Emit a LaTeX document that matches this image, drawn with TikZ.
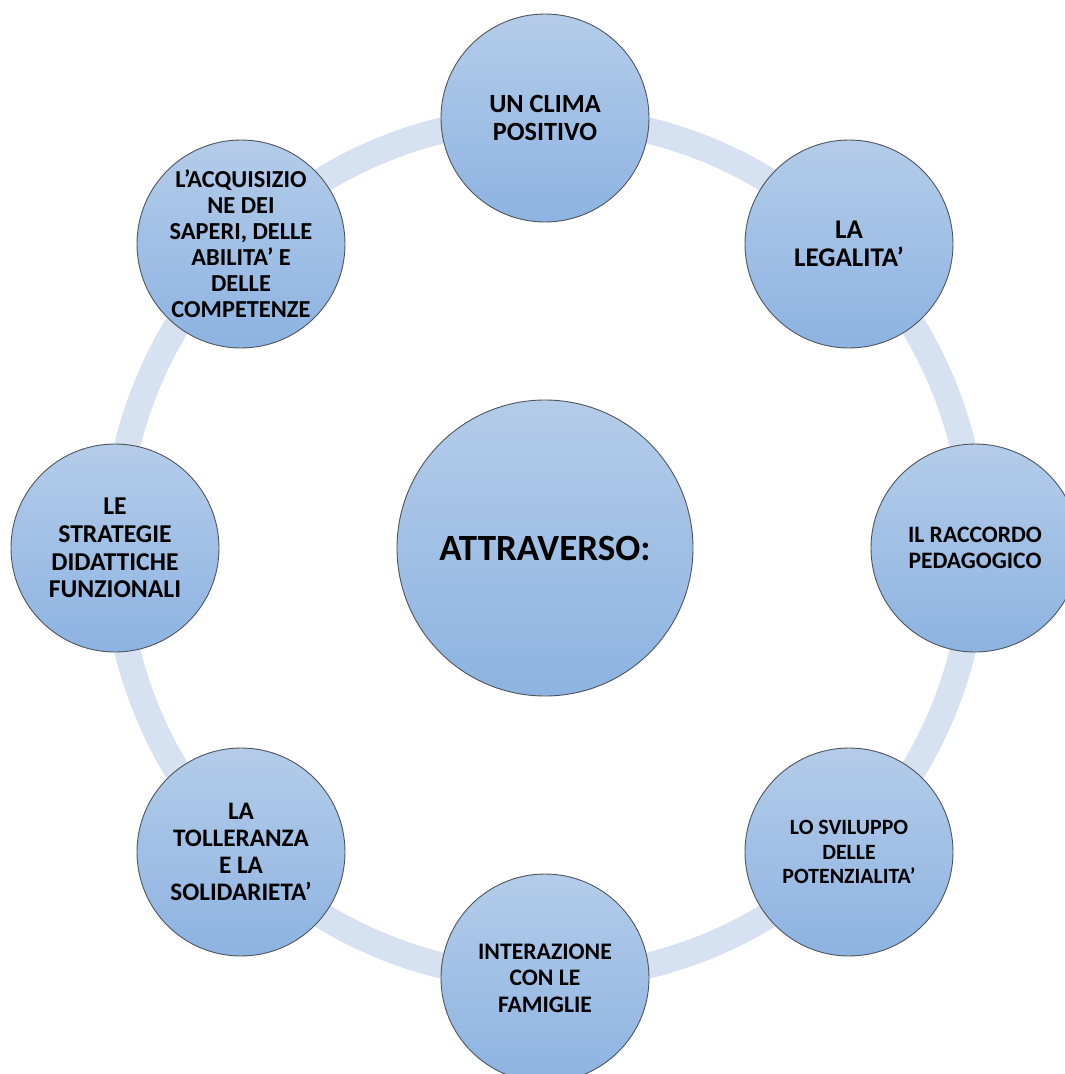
\documentclass[tikz,border=0pt]{standalone}
\usepackage{fontspec}
\setmainfont{Carlito}[BoldFont={Carlito Bold}]
\definecolor{ringc}{HTML}{D6E1F1}
\definecolor{topc}{HTML}{B4CCE9}
\definecolor{botc}{HTML}{8DB3E2}
\definecolor{edgec}{HTML}{4F545B}
\tikzset{
  bubble/.style={circle, draw=edgec, line width=0.9pt, top color=topc, bottom color=botc,
    minimum size=208pt, inner sep=0pt, align=center, font=\bfseries, text=black},
  hub/.style={bubble, minimum size=296pt},
}
\begin{document}
\begin{tikzpicture}[x=1pt,y=-1pt]
\useasboundingbox (0,0) rectangle (1065,1074);
\clip (0,0) rectangle (1065,1074);
\coordinate (o) at (545,548);
\draw[ringc, line width=26pt] (o) circle (430);
\node[hub, font=\bfseries\fontsize{37}{43}\selectfont] (c) at (o) {ATTRAVERSO:};
\node[bubble, font=\bfseries\fontsize{26.3}{27.7}\selectfont] (n1) at (545,118) {UN CLIMA\\POSITIVO};
\node[bubble, font=\bfseries\fontsize{27}{27.5}\selectfont] (n2) at (849,244) {LA\\LEGALITA’};
\node[bubble, font=\bfseries\fontsize{23.6}{26}\selectfont] (n3) at (975,548) {IL RACCORDO\\PEDAGOGICO};
\node[bubble, font=\bfseries\fontsize{21.8}{24.6}\selectfont] (n4) at (849,852) {LO SVILUPPO\\DELLE\\POTENZIALITA’};
\node[bubble, font=\bfseries\fontsize{23.7}{26.7}\selectfont] (n5) at (545,978) {INTERAZIONE\\CON LE\\FAMIGLIE};
\node[bubble, font=\bfseries\fontsize{25.2}{26.9}\selectfont] (n6) at (241,852) {LA\\TOLLERANZA\\E LA\\SOLIDARIETA’};
\node[bubble, font=\bfseries\fontsize{25.7}{27.7}\selectfont] (n7) at (115,548) {LE\\STRATEGIE\\DIDATTICHE\\FUNZIONALI};
\node[bubble, font=\bfseries\fontsize{24.4}{26}\selectfont] (n8) at (241,244) {L’ACQUISIZIO\\NE DEI\\SAPERI, DELLE\\ABILITA’ E\\DELLE\\COMPETENZE};
\end{tikzpicture}
\end{document}
